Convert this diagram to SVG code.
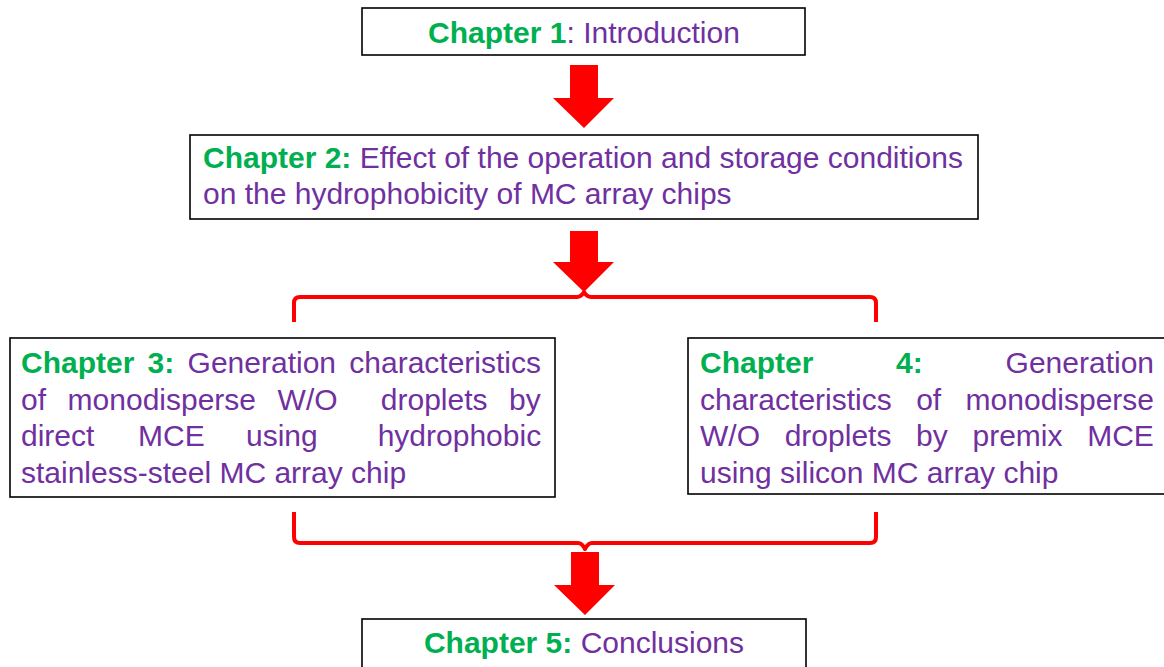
<svg xmlns="http://www.w3.org/2000/svg" width="1164" height="667" viewBox="0 0 1164 667">
<style>
.box{fill:#fff;stroke:#000;stroke-width:1.6}
text{font-family:"Liberation Sans",Arial,sans-serif;font-size:30px}
.g{fill:#00B050;font-weight:bold}
.p{fill:#7030A0}
.arrow{fill:#FF0000}
.brace{fill:none;stroke:#FF0000;stroke-width:4;stroke-linejoin:round}
</style>
<rect width="1164" height="667" fill="#fff"/>
<g id="connectors">
<path class="arrow" d="M570,65 H598 V98 H614 L584,128 L553,98 H570 Z"/>
<path class="arrow" d="M570,231 H598 V262 H614 L584,292 L553,262 H570 Z"/>
<path class="brace" d="M294,322 V303 Q294,297 300,297 H577 Q581,297 584,292 Q587,297 591,297 H870 Q876,297 876,303 V322"/>
<path class="brace" d="M294,512 V537 Q294,543 300,543 H578 Q582,543 585,549 Q588,543 592,543 H870 Q876,543 876,537 V512"/>
<path class="arrow" d="M571,552 H599 V585 H615 L585,615 L554,585 H571 Z"/>
</g>
<g id="ch1">
<rect class="box" x="362" y="8" width="443" height="47"/>
<text x="584" y="43" text-anchor="middle"><tspan class="g">Chapter 1</tspan><tspan class="p">: Introduction</tspan></text>
</g>
<g id="ch2">
<rect class="box" x="190" y="135" width="788" height="84"/>
<text x="203" y="168"><tspan class="g">Chapter 2:</tspan><tspan class="p"> Effect of the operation and storage conditions</tspan></text>
<text x="203" y="204" class="p">on the hydrophobicity of MC array chips</text>
</g>
<g id="ch3">
<rect class="box" x="10" y="338" width="545" height="159"/>
<text y="373"><tspan class="g" x="21">Chapter</tspan><tspan class="g" x="147.6">3:</tspan><tspan class="p" x="187.6">Generation</tspan><tspan class="p" x="349.3">characteristics</tspan></text>
<text y="409.5" class="p"><tspan x="21">of</tspan><tspan x="67.6">monodisperse</tspan><tspan x="277.6">W/O</tspan><tspan x="380.8">droplets</tspan><tspan x="509.1">by</tspan></text>
<text y="446" class="p"><tspan x="21">direct</tspan><tspan x="138">MCE</tspan><tspan x="246">using</tspan><tspan x="377.7">hydrophobic</tspan></text>
<text y="482.5" x="21" class="p">stainless-steel MC array chip</text>
</g>
<g id="ch4">
<rect class="box" x="688" y="338" width="478" height="156"/>
<text y="373"><tspan class="g" x="700">Chapter</tspan><tspan class="g" x="896.1">4:</tspan><tspan class="p" x="1005.6">Generation</tspan></text>
<text y="409.5" class="p"><tspan x="700">characteristics</tspan><tspan x="916.2">of</tspan><tspan x="965.6">monodisperse</tspan></text>
<text y="446" class="p"><tspan x="700">W/O</tspan><tspan x="784.7">droplets</tspan><tspan x="916.1">by</tspan><tspan x="972.5">premix</tspan><tspan x="1087.2">MCE</tspan></text>
<text y="482.5" x="700" class="p">using silicon MC array chip</text>
</g>
<g id="ch5">
<rect class="box" x="362" y="619" width="444" height="60"/>
<text x="584" y="653" text-anchor="middle"><tspan class="g">Chapter 5:</tspan><tspan class="p"> Conclusions</tspan></text>
</g>
</svg>
